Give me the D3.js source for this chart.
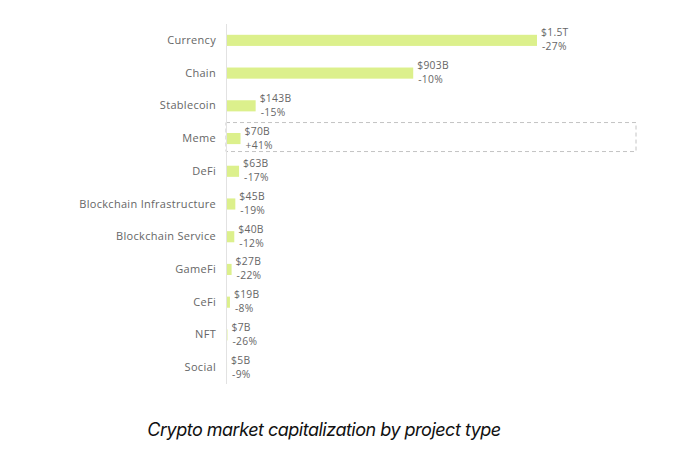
<!DOCTYPE html>
<html>
<head>
<meta charset="utf-8">
<script src="https://cdn.jsdelivr.net/npm/d3@7"></script>
<style>
  body { margin: 0; background: #fff; }
  svg { display: block; }
</style>
</head>
<body>
<svg id="chart" width="692" height="470"></svg>
<script>
// project types and market cap (billions USD), change since last period
var categories = ['Currency', 'Chain', 'Stablecoin', 'Meme', 'DeFi', 'Blockchain Infrastructure',
                  'Blockchain Service', 'GameFi', 'CeFi', 'NFT', 'Social']
var values     = [1500, 903, 143, 70, 63, 45, 40, 27, 19, 7, 5]
var valueLabels  = ['$1.5T', '$903B', '$143B', '$70B', '$63B', '$45B', '$40B', '$27B', '$19B', '$7B', '$5B']
var changeLabels = ['-27%', '-10%', '-15%', '+41%', '-17%', '-19%', '-12%', '-22%', '-8%', '-26%', '-9%']
var highlighted = 'Meme'

var x0 = 226
var top_y = 24
var bottom_y = 384

var svg = d3.select('#chart')

var x = d3.scaleLinear()
    .domain([0, 1500])
    .range([x0, 537])

var y = d3.scaleBand()
    .domain(categories)
    .range([top_y, bottom_y])
    .paddingInner(0.66)
    .paddingOuter(0.33)

var rows = categories.map(function(c, i) {
    return {name: c, value: values[i], label: valueLabels[i], change: changeLabels[i]}
})

// highlight box around the Meme row
var hy = y(highlighted) + y.bandwidth() / 2
svg.append('rect')
    .attr('x', x0)
    .attr('y', hy - 16)
    .attr('width', 636 - x0)
    .attr('height', 29)
    .attr('fill', 'none')
    .attr('stroke', '#c4c4c4')
    .attr('stroke-width', 1)
    .attr('stroke-dasharray', '4,3')

svg.selectAll('rect.bar')
    .data(rows)
    .join('rect')
    .attr('class', 'bar')
    .attr('x', x0)
    .attr('y', function(d) { return y(d.name) })
    .attr('width', function(d) { return Math.max(x(d.value) - x0, 1) })
    .attr('height', y.bandwidth())
    .attr('fill', '#dcf08c')

// baseline
svg.append('line')
    .attr('x1', x0 + 0.5)
    .attr('x2', x0 + 0.5)
    .attr('y1', top_y)
    .attr('y2', bottom_y)
    .style('stroke', '#e2e2e2')

var yAxis = d3.axisLeft(y).tickSize(0).tickPadding(10)
var g = svg.append('g')
    .attr('transform', 'translate(' + x0 + ',0)')
    .call(yAxis)
g.select('.domain').remove()
g.selectAll('text')
    .attr('font-family', 'Open Sans, sans-serif')
    .attr('font-size', 11)
    .attr('letter-spacing', 0.3)
    .attr('fill', '#666')

var labels = svg.selectAll('g.lbl')
    .data(rows)
    .join('g')
    .attr('class', 'lbl')
    .attr('transform', function(d) {
        return 'translate(' + (Math.max(x(d.value), x0 + 1) + 4) + ',' + (y(d.name) + y.bandwidth() / 2) + ')'
    })
    .attr('font-family', 'Open Sans, sans-serif')
    .attr('font-size', 10.3)
    .attr('letter-spacing', 0.3)
    .attr('fill', '#666')

labels.append('text')
    .attr('y', -4)
    .text(function(d) { return d.label })

labels.append('text')
    .attr('x', 1)
    .attr('y', 10)
    .text(function(d) { return d.change })

svg.append('text')
    .attr('x', 324)
    .attr('y', 436)
    .attr('text-anchor', 'middle')
    .attr('font-family', 'Inter, sans-serif')
    .attr('font-style', 'italic')
    .attr('font-size', 18)
    .attr('letter-spacing', -0.5)
    .attr('fill', '#111')
    .text('Crypto market capitalization by project type')
</script>
</body>
</html>
